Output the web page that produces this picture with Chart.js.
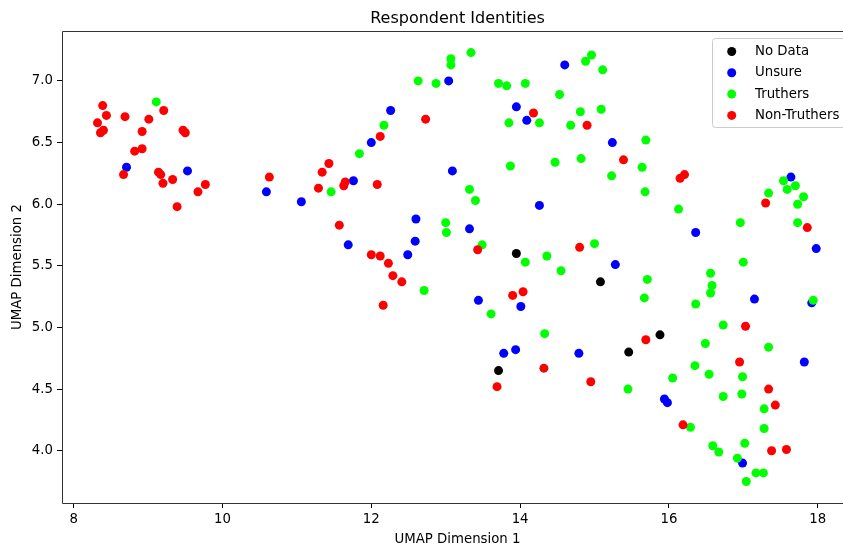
<!DOCTYPE html>
<html>
<head>
<meta charset="utf-8">
<script src="https://cdn.jsdelivr.net/npm/chart.js@4/dist/chart.umd.min.js"></script>
<style>
  html, body { margin: 0; padding: 0; background: #fff; }
  canvas { display: block; }
</style>
</head>
<body>
<canvas id="chart" width="843" height="552"></canvas>
<script>
// UMAP coordinates per respondent group
const noDataPoints = [
  [13.95, 5.60], [15.08, 5.37], [15.88, 4.94], [15.46, 4.80], [13.71, 4.65]
];

const unsurePoints = [
  [8.71, 6.30], [9.53, 6.27], [10.59, 6.10], [11.06, 6.02], [11.76, 6.19],
  [11.69, 5.67], [12.00, 6.50], [12.26, 6.76], [13.04, 7.00], [13.09, 6.27],
  [12.60, 5.88], [12.59, 5.70], [12.49, 5.59], [13.32, 5.80], [13.44, 5.22],
  [14.01, 5.17], [13.78, 4.79], [13.94, 4.82], [14.60, 7.13], [13.95, 6.79],
  [14.09, 6.68], [14.26, 5.99], [15.24, 6.50], [15.28, 5.51], [14.79, 4.79],
  [16.36, 5.77], [15.94, 4.42], [15.98, 4.39], [17.15, 5.23], [17.64, 6.22],
  [17.98, 5.64], [17.92, 5.20], [17.82, 4.72], [16.99, 3.90]
];

const truthersPoints = [
  [9.11, 6.83], [11.46, 6.10], [11.84, 6.41], [12.17, 6.64], [12.63, 7.00],
  [12.87, 6.98], [13.07, 7.18], [13.07, 7.13], [13.34, 7.23], [13.71, 6.98],
  [13.82, 6.96], [14.07, 6.98], [14.53, 6.89], [14.96, 7.21], [14.88, 7.16],
  [15.11, 7.09], [13.85, 6.66], [14.26, 6.66], [14.81, 6.75], [15.09, 6.77],
  [14.68, 6.64], [15.69, 6.52], [15.64, 6.30], [15.23, 6.23], [14.82, 6.37],
  [14.47, 6.34], [13.87, 6.31], [13.32, 6.12], [15.68, 6.10], [13.40, 6.03],
  [13.00, 5.85], [13.01, 5.77], [13.49, 5.67], [14.07, 5.53], [14.36, 5.58],
  [14.55, 5.46], [15.00, 5.68], [15.71, 5.39], [15.67, 5.24], [13.61, 5.11],
  [14.33, 4.95], [12.71, 5.30], [15.45, 4.50], [16.13, 5.96], [16.96, 5.85],
  [17.34, 6.09], [17.59, 6.12], [17.54, 6.19], [17.70, 6.15], [17.81, 6.06],
  [17.73, 6.00], [17.73, 5.85], [17.00, 5.53], [16.56, 5.44], [16.58, 5.34],
  [16.56, 5.28], [16.36, 5.19], [17.94, 5.22], [16.73, 5.02], [16.49, 4.87],
  [17.34, 4.84], [16.35, 4.69], [16.05, 4.59], [16.54, 4.62], [16.99, 4.60],
  [16.98, 4.46], [16.73, 4.44], [17.28, 4.34], [16.29, 4.19], [17.28, 4.18],
  [17.02, 4.06], [16.59, 4.04], [16.67, 3.99], [16.92, 3.94], [17.17, 3.82],
  [17.27, 3.82], [17.04, 3.75]
];

const nonTruthersPoints = [
  [8.39, 6.80], [8.44, 6.72], [8.32, 6.66], [8.40, 6.60], [8.36, 6.58],
  [8.69, 6.71], [9.01, 6.69], [9.21, 6.76], [8.92, 6.59], [9.47, 6.60],
  [9.50, 6.58], [8.82, 6.43], [8.92, 6.45], [8.67, 6.24], [9.14, 6.26],
  [9.17, 6.24], [9.20, 6.17], [9.33, 6.20], [9.77, 6.16], [9.67, 6.10],
  [9.39, 5.98], [10.63, 6.22], [11.43, 6.33], [11.34, 6.26], [11.29, 6.13],
  [11.65, 6.18], [11.63, 6.15], [12.08, 6.16], [12.12, 6.55], [12.73, 6.69],
  [11.57, 5.83], [12.00, 5.59], [12.12, 5.58], [12.23, 5.52], [12.29, 5.42],
  [12.41, 5.37], [12.16, 5.18], [13.43, 5.63], [13.90, 5.26], [14.04, 5.29],
  [14.18, 6.74], [14.90, 6.64], [15.39, 6.36], [14.80, 5.65], [15.69, 4.90],
  [13.69, 4.52], [14.32, 4.67], [14.95, 4.56], [16.15, 6.21], [16.21, 6.24],
  [17.30, 6.01], [17.86, 5.81], [17.03, 5.01], [16.95, 4.72], [17.34, 4.50],
  [17.43, 4.37], [16.19, 4.21], [17.38, 4.00], [17.58, 4.01]
];

const groupLabels = ["No Data", "Unsure", "Truthers", "Non-Truthers"];
const groupColors = ["#000000", "#0000ff", "#00ff00", "#ff0000"];

const xTicks = [8, 10, 12, 14, 16, 18];
const yTicks = [4.0, 4.5, 5.0, 5.5, 6.0, 6.5, 7.0];

const chartTitle = "Respondent Identities";
const xTitle = "UMAP Dimension 1";
const yTitle = "UMAP Dimension 2";

const FONT = "DejaVu Sans";

const toXY = pts => pts.map(p => ({ x: p[0], y: p[1] }));
const groups = [noDataPoints, unsurePoints, truthersPoints, nonTruthersPoints];

// The source figure is cut off on the right: its axes really end a bit past
// the canvas edge, so titles are centred on that wider box, not the canvas.
const axesRight = 853;

// spines drawn over the points, like matplotlib does
const framePlugin = {
  id: "frame",
  afterDatasetsDraw: chart => {
    const { ctx, chartArea } = chart;
    const l = Math.round(chartArea.left) + 0.5;
    const t = Math.round(chartArea.top) + 0.5;
    const r = Math.round(chartArea.right) + 0.5;
    const b = Math.round(chartArea.bottom) + 0.5;
    ctx.save();
    ctx.strokeStyle = "#333";
    ctx.lineWidth = 1;
    ctx.beginPath();
    ctx.moveTo(r, t);
    ctx.lineTo(l, t);
    ctx.lineTo(l, b);
    ctx.lineTo(r, b);
    ctx.stroke();
    ctx.restore();
  }
};

// chart title and axis titles
const titlesPlugin = {
  id: "titles",
  afterDraw: chart => {
    const { ctx, chartArea } = chart;
    const cx = (chartArea.left + axesRight) / 2;
    ctx.save();
    ctx.fillStyle = "#000";
    ctx.textAlign = "center";
    ctx.textBaseline = "middle";
    ctx.font = "16px '" + FONT + "'";
    ctx.fillText(chartTitle, cx, 18.6);
    ctx.font = "13.3px '" + FONT + "'";
    ctx.fillText(xTitle, cx, 540);
    ctx.translate(18, (chartArea.top + chartArea.bottom) / 2);
    ctx.rotate(-Math.PI / 2);
    ctx.fillText(yTitle, 0, 0);
    ctx.restore();
  }
};

// matplotlib style legend box in the upper right corner
const legendPlugin = {
  id: "boxLegend",
  afterDraw: chart => {
    const { ctx, chartArea } = chart;
    const left = 712.5;
    const top = chartArea.top + 7.5;
    const w = 140;
    const h = 89;
    const rad = 3;
    ctx.save();
    ctx.beginPath();
    ctx.roundRect(left, top, w, h, rad);
    ctx.fillStyle = "rgba(255,255,255,0.8)";
    ctx.fill();
    ctx.strokeStyle = "#cccccc";
    ctx.lineWidth = 1;
    ctx.stroke();
    ctx.font = "13.3px '" + FONT + "'";
    ctx.textBaseline = "middle";
    ctx.textAlign = "left";
    chart.data.datasets.forEach((ds, i) => {
      const y = top + 13 + i * 21.3;
      ctx.beginPath();
      ctx.arc(731.7, y, 4.5, 0, Math.PI * 2);
      ctx.fillStyle = ds.backgroundColor;
      ctx.fill();
      ctx.fillStyle = "#000";
      ctx.fillText(ds.label, 755, y);
    });
    ctx.restore();
  }
};

new Chart(document.getElementById("chart"), {
  type: "scatter",
  plugins: [framePlugin, titlesPlugin, legendPlugin],
  data: {
    datasets: groups.map((pts, i) => ({
      label: groupLabels[i],
      data: toXY(pts),
      backgroundColor: groupColors[i],
      borderWidth: 0,
      pointRadius: 4.5,
      pointHoverRadius: 4.5,
      order: groups.length - i
    }))
  },
  options: {
    responsive: false,
    animation: false,
    devicePixelRatio: 1,
    layout: { autoPadding: false, padding: { top: 31, left: 0, right: 0, bottom: 0 } },
    plugins: {
      legend: { display: false },
      tooltip: { enabled: false },
      title: { display: false }
    },
    scales: {
      x: {
        type: "linear",
        min: 7.843,
        max: 18.34,
        afterBuildTicks: s => { s.ticks = xTicks.map(v => ({ value: v })); },
        afterFit: s => {
          s.height = 49;
          s.paddingLeft = 0;
          s.paddingRight = 0;
        },
        border: { display: false },
        grid: { drawOnChartArea: false, drawTicks: true, tickLength: 5, color: "#000" },
        ticks: {
          autoSkip: false,
          maxRotation: 0,
          padding: 4,
          color: "#000",
          font: { family: FONT, size: 13.3 },
          callback: v => String(v)
        },
        title: { display: false }
      },
      y: {
        type: "linear",
        min: 3.576,
        max: 7.405,
        afterBuildTicks: s => { s.ticks = yTicks.map(v => ({ value: v })); },
        afterFit: s => {
          s.width = 62;
          s.paddingTop = 0;
          s.paddingBottom = 0;
        },
        border: { display: false },
        grid: { drawOnChartArea: false, drawTicks: true, tickLength: 5, color: "#000" },
        ticks: {
          autoSkip: false,
          padding: 4,
          color: "#000",
          font: { family: FONT, size: 13.3 },
          callback: v => v.toFixed(1)
        },
        title: { display: false }
      }
    }
  }
});
</script>
</body>
</html>
